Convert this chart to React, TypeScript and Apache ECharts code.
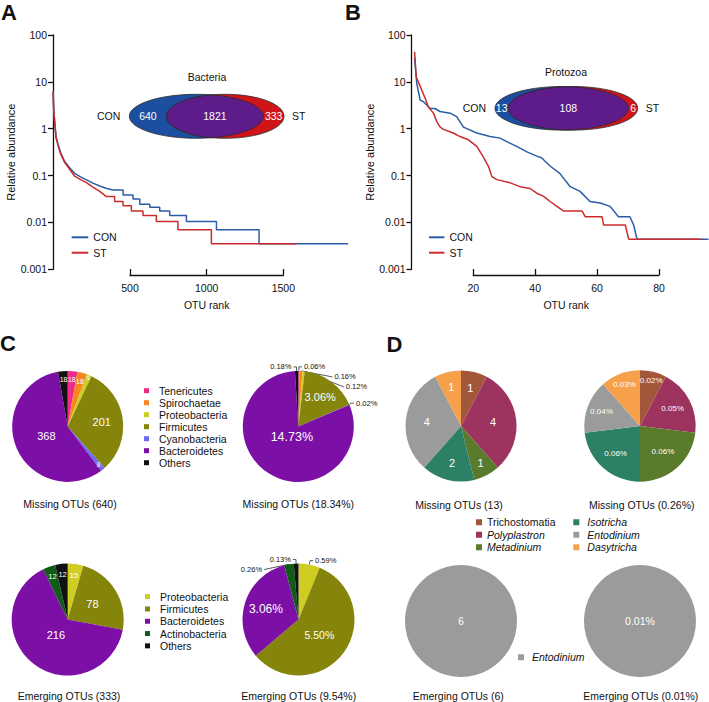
import { useEffect, useRef } from 'react';
import * as echarts from 'echarts';

const FONT = '"Liberation Sans", Arial, Helvetica, sans-serif';
const INK = '#111111';

// ---------- Panel A / B: rank-abundance curves ([OTU rank, relative abundance %]) ----------
const bacteriaCON: [number, number][] = [
  [1, 6.2], [3, 3.5], [6, 2.2], [15, 1.0], [20, 0.66], [33, 0.46], [50, 0.31], [76, 0.2], [110, 0.145],
  [141, 0.112], [180, 0.094], [218, 0.081], [260, 0.069], [305, 0.06], [350, 0.053], [391, 0.049],
  [457, 0.049], [457, 0.0385], [522, 0.0385], [522, 0.0315], [566, 0.0315], [566, 0.0245], [631, 0.0245],
  [631, 0.021], [696, 0.021], [696, 0.0175], [761, 0.0175], [761, 0.014], [870, 0.014], [870, 0.0105],
  [1066, 0.0105], [1066, 0.007], [1344, 0.007], [1344, 0.0035], [1925, 0.0035],
];
const bacteriaST: [number, number][] = [
  [1, 6.2], [3, 3.5], [6, 2.2], [15, 1.0], [20, 0.64], [33, 0.44], [50, 0.29], [76, 0.19], [110, 0.135],
  [141, 0.097], [180, 0.082], [218, 0.071], [260, 0.057], [305, 0.046], [348, 0.0357], [402, 0.0357],
  [402, 0.028], [457, 0.028], [457, 0.0227], [511, 0.0227], [511, 0.0175], [587, 0.0175], [587, 0.014],
  [674, 0.014], [674, 0.0105], [815, 0.0105], [815, 0.007], [1033, 0.007], [1033, 0.0035], [1588, 0.0035],
];
const protozoaCON: [number, number][] = [
  [1, 33], [1.7, 9.3], [2.8, 4.1], [3.8, 3.8], [6, 2.7], [7.6, 2.7], [9.2, 2.33], [12.5, 2.15], [14.6, 1.81],
  [16.8, 1.08], [21.1, 0.81], [25.4, 0.68], [28.6, 0.63], [30.8, 0.53], [34, 0.42], [37.3, 0.32], [40.5, 0.26],
  [42, 0.24], [44.8, 0.16], [48, 0.11], [51.3, 0.058], [54.5, 0.046], [57.7, 0.028], [61, 0.026], [64.2, 0.022],
  [66.9, 0.0132], [70.6, 0.0132], [71.8, 0.0088], [72.9, 0.0044], [96, 0.0044],
];
const protozoaST: [number, number][] = [
  [1, 44], [1.5, 13], [2.2, 10], [3.3, 6.7], [4.4, 4.5], [5.4, 2.95], [7.1, 2.15], [8.2, 1.4], [9.2, 1.1],
  [10.3, 0.97], [13.5, 0.81], [15.7, 0.68], [18.4, 0.58], [21.1, 0.42], [23.2, 0.25], [24.9, 0.156], [26, 0.095],
  [27.6, 0.082], [31.9, 0.07], [35.1, 0.058], [38.3, 0.053], [40.5, 0.042], [42.7, 0.036], [44.8, 0.028],
  [47, 0.022], [49.1, 0.0176], [55.1, 0.0176], [56.2, 0.0132], [61.6, 0.0132], [62.1, 0.0088], [69.1, 0.0088],
  [70.2, 0.0044], [93.5, 0.0044],
];
const yRange = [0.001, 100];
const bacteriaRankTicks = [500, 1000, 1500];
const protozoaRankTicks = [20, 40, 60, 80];

// Venn counts: [CON only, shared, ST only]
const bacteriaVenn = [640, 1821, 333];
const protozoaVenn = [13, 108, 6];

// ---------- Panel C / D: pies ----------
const missingBacteriaNames = ['Tenericutes', 'Spirochaetae', 'Proteobacteria', 'Firmicutes', 'Cyanobacteria', 'Bacteroidetes', 'Others'];
const missingBacteriaCounts = [18, 18, 9, 201, 8, 368, 18];
const missingBacteriaPct = [0.06, 0.16, 0.12, 3.06, 0.02, 14.73, 0.18];
const missingBacteriaPctTotal = 18.34;

const emergingBacteriaNames = ['Proteobacteria', 'Firmicutes', 'Bacteroidetes', 'Actinobacteria', 'Others'];
const emergingBacteriaCounts = [15, 78, 216, 12, 12];
const emergingBacteriaPct = [0.59, 5.5, 3.06, 0.26, 0.13];
const emergingBacteriaPctTotal = 9.54;

const missingProtozoaNames = ['Trichostomatia', 'Polyplastron', 'Metadinium', 'Isotricha', 'Entodinium', 'Dasytricha'];
const missingProtozoaCounts = [1, 4, 1, 2, 4, 1];
const missingProtozoaPct = [0.02, 0.05, 0.06, 0.06, 0.04, 0.03];
const missingProtozoaPctTotal = 0.26;

const emergingProtozoaNames = ['Entodinium'];
const emergingProtozoaCounts = [6];
const emergingProtozoaPct = [0.01];
const emergingProtozoaPctTotal = 0.01;

const COLORS: Record<string, string> = {
  Tenericutes: '#ee2a8a',
  Spirochaetae: '#f7861e',
  Proteobacteria: '#d0cd22',
  Firmicutes: '#85850c',
  Cyanobacteria: '#6a6cf2',
  Bacteroidetes: '#7c10a6',
  Others: '#111111',
  Actinobacteria: '#0f5c16',
  Trichostomatia: '#a3573a',
  Polyplastron: '#9c345f',
  Metadinium: '#5a7a2c',
  Isotricha: '#2b8066',
  Entodinium: '#9b9b9b',
  Dasytricha: '#f6a04c',
};
const ITALIC = new Set(['Polyplastron', 'Metadinium', 'Isotricha', 'Entodinium', 'Dasytricha']);

type LabelSpec = { f?: number; size: number; out?: boolean; center?: boolean };

const sum = (a: number[]) => a.reduce((s, v) => s + v, 0);
const fmtCount = (v: number) => String(v);
const fmtPct = (v: number) => v.toFixed(2) + '%';

function pieSeries(names: string[], values: number[], fmt: (v: number) => string, cx: number, cy: number, r: number, specs: LabelSpec[]) {
  return {
    type: 'pie',
    center: [cx, cy],
    radius: r,
    startAngle: 90,
    clockwise: true,
    avoidLabelOverlap: true,
    emphasis: { disabled: true },
    itemStyle: { borderWidth: 0 },
    label: { position: 'inside', color: '#fff', fontFamily: FONT, formatter: (p: any) => fmt(p.value) },
    labelLine: { length: 4, length2: 3, lineStyle: { color: INK, width: 0.7 } },
    data: names.map((n, i) => {
      const s = specs[i];
      return {
        name: n,
        value: values[i],
        itemStyle: { color: COLORS[n] },
        label: s.out
          ? { position: 'outside', color: INK, fontSize: s.size, fontFamily: FONT, distanceToLabelLine: 2 }
          : { position: s.center ? 'center' : 'inside', fontSize: s.size, color: '#fff', fontFamily: FONT },
        labelLine: { show: !!s.out },
      };
    }),
    labelLayout: (p: any) => {
      const s = specs[p.dataIndex];
      if (!s || s.out || s.center || s.f == null || !p.labelRect) return {};
      const lr = p.labelRect;
      const lx = lr.x + lr.width / 2 - cx;
      const ly = lr.y + lr.height / 2 - cy;
      const d = Math.hypot(lx, ly);
      if (d < 1e-6) return {};
      const k = (s.f * r) / d - 1;
      return { dx: lx * k, dy: ly * k };
    },
  };
}

function lens(c1: number, r1: number, c2: number, r2: number, cy: number, ry: number) {
  const left: number[][] = [];
  const right: number[][] = [];
  const n = 120;
  for (let i = 0; i <= n; i++) {
    const t = -1 + (2 * i) / n;
    const s = Math.sqrt(Math.max(0, 1 - t * t));
    const l = Math.max(c1 - r1 * s, c2 - r2 * s);
    const rr = Math.min(c1 + r1 * s, c2 + r2 * s);
    if (l <= rr) {
      left.push([l, cy + ry * t]);
      right.push([rr, cy + ry * t]);
    }
  }
  return left.concat(right.reverse());
}

function txt(x: number, y: number, s: string, size: number, opts: any = {}) {
  const align = opts.align || 'center';
  return {
    type: 'text',
    x,
    y,
    silent: true,
    style: {
      text: s,
      font: `${opts.italic ? 'italic ' : ''}${opts.bold ? 'bold ' : ''}${size}px ${FONT}`,
      fill: opts.fill || INK,
      align,
      verticalAlign: 'middle',
      textAlign: align,
      textVerticalAlign: 'middle',
    },
  };
}

function venn(counts: number[], title: string, titleX: number, titleY: number, c1: number, r1: number, c2: number, r2: number, cy: number, ry: number) {
  const stroke = '#2b2b2b';
  const lensLeft = c2 - r2;
  const lensRight = c1 + r1;
  return [
    txt(titleX, titleY, title, 10.5),
    { type: 'ellipse', silent: true, shape: { cx: c1, cy, rx: r1, ry }, style: { fill: '#1c4f9f', stroke, lineWidth: 0.8 } },
    { type: 'ellipse', silent: true, shape: { cx: c2, cy, rx: r2, ry }, style: { fill: '#cf1519', stroke, lineWidth: 0.8 } },
    { type: 'polygon', silent: true, shape: { points: lens(c1, r1, c2, r2, cy, ry) }, style: { fill: '#5e1c8a', stroke, lineWidth: 0.8 } },
    txt((c1 - r1 + lensLeft) / 2, cy, String(counts[0]), 10.5, { fill: '#fff' }),
    txt((lensLeft + lensRight) / 2, cy, String(counts[1]), 10.5, { fill: '#fff' }),
    txt((lensRight + c2 + r2) / 2, cy, String(counts[2]), 10.5, { fill: '#fff' }),
    txt(c1 - r1 - 9, cy, 'CON', 10.5, { align: 'right' }),
    txt(c2 + r2 + 8, cy, 'ST', 10.5, { align: 'left' }),
  ];
}

const logFmt = (v: number) => String(parseFloat(Number(v).toPrecision(6)));

function yAxisLog(gridIndex: number) {
  return {
    gridIndex,
    type: 'log',
    logBase: 10,
    min: yRange[0],
    max: yRange[1],
    name: 'Relative abundance',
    nameLocation: 'middle',
    nameGap: 33,
    nameRotate: 90,
    nameTextStyle: { fontSize: 11, color: INK, fontFamily: FONT },
    axisLine: { show: true, lineStyle: { color: INK, width: 1.3 } },
    axisTick: { show: true, inside: false, length: 5, lineStyle: { color: INK, width: 1.3 } },
    axisLabel: { fontSize: 10.5, color: INK, fontFamily: FONT, margin: 6, formatter: logFmt },
    splitLine: { show: false },
    minorTick: { show: false },
  };
}

function xAxisRank(gridIndex: number, ticks: number[]) {
  return {
    gridIndex,
    type: 'value',
    min: ticks[0],
    max: ticks[ticks.length - 1],
    interval: ticks[1] - ticks[0],
    name: 'OTU rank',
    nameLocation: 'middle',
    nameGap: 24,
    nameTextStyle: { fontSize: 10.5, color: INK, fontFamily: FONT },
    axisLine: { show: true, onZero: false, lineStyle: { color: INK, width: 1.3 } },
    axisTick: { show: true, inside: true, length: 6, lineStyle: { color: INK, width: 1.3 } },
    axisLabel: { fontSize: 10.5, color: INK, fontFamily: FONT, margin: 7, formatter: (v: number) => String(v) },
    splitLine: { show: false },
  };
}

function lineSeries(name: string, data: [number, number][], color: string, axisIndex: number) {
  return {
    type: 'line',
    name,
    data,
    xAxisIndex: axisIndex,
    yAxisIndex: axisIndex,
    showSymbol: false,
    symbol: 'none',
    color,
    lineStyle: { color, width: 1.5 },
    emphasis: { disabled: true },
    clip: true,
  };
}

function legend(data: any[], left: number, top: number, lineHeight: number, extra: any = {}) {
  return {
    orient: 'vertical',
    left,
    top,
    padding: 0,
    itemGap: 0,
    icon: 'rect',
    itemWidth: 5,
    itemHeight: 5,
    selectedMode: false,
    textStyle: { fontSize: 10.5, color: INK, fontFamily: FONT, lineHeight, padding: [0, 0, 0, extra.textGap || 0] },
    data: data.map((n) => (typeof n === 'string' && ITALIC.has(n) ? { name: n, textStyle: { fontStyle: 'italic' } } : n)),
    ...(extra.opts || {}),
  };
}

export default function App() {
  const ref = useRef<HTMLDivElement>(null);
  useEffect(() => {
    if (!ref.current) return;
    const chart = echarts.init(ref.current, undefined, { renderer: 'svg', width: 709, height: 702 });

    const CON_BLUE = '#2b5ca6';
    const ST_RED = '#cc2a2c';

    const option: any = {
      animation: false,
      backgroundColor: '#ffffff',
      textStyle: { fontFamily: FONT },
      grid: [
        { left: 53, top: 35, width: 299, height: 234.3 },
        { left: 130, top: 269, width: 153.3, height: 6 },
        { left: 411.5, top: 35, width: 297, height: 234.3 },
        { left: 473.3, top: 269, width: 185.7, height: 6 },
      ],
      xAxis: [
        { gridIndex: 0, type: 'value', min: 0, max: 1950, show: false },
        xAxisRank(1, bacteriaRankTicks),
        { gridIndex: 2, type: 'value', min: 0, max: 96, show: false },
        xAxisRank(3, protozoaRankTicks),
      ],
      yAxis: [
        yAxisLog(0),
        { gridIndex: 1, type: 'value', show: false },
        yAxisLog(2),
        { gridIndex: 3, type: 'value', show: false },
      ],
      legend: [
        legend(['CON', 'ST'], 71.7, 229.6, 15.4, { opts: { itemWidth: 16.6, itemHeight: 2 } }),
        legend(['CON', 'ST'], 429, 229.6, 15.4, { opts: { itemWidth: 15.4, itemHeight: 2 } }),
        legend(missingBacteriaNames, 144, 384.7, 12, { textGap: 5 }),
        legend(emergingBacteriaNames, 145, 590.5, 12.3, { textGap: 5 }),
        legend(missingProtozoaNames.slice(0, 3), 476, 516, 12.5, { opts: { itemWidth: 6, itemHeight: 6 } }),
        legend(missingProtozoaNames.slice(3), 573.3, 516, 12.5, { textGap: 3, opts: { itemWidth: 6, itemHeight: 6 } }),
        legend(emergingProtozoaNames, 518, 651, 12.5, { textGap: 3, opts: { itemWidth: 6, itemHeight: 6 } }),
      ],
      series: [
        lineSeries('CON', bacteriaCON, CON_BLUE, 0),
        lineSeries('ST', bacteriaST, ST_RED, 0),
        lineSeries('CON', protozoaCON, CON_BLUE, 2),
        lineSeries('ST', protozoaST, ST_RED, 2),
        pieSeries(missingBacteriaNames, missingBacteriaCounts, fmtCount, 67.7, 426.4, 55.5, [
          { f: 0.84, size: 7 }, { f: 0.84, size: 7 }, { f: 0.95, size: 6 }, { f: 0.62, size: 11 },
          { f: 0.88, size: 6.5 }, { f: 0.42, size: 11 }, { f: 0.84, size: 7 },
        ]),
        pieSeries(missingBacteriaNames, missingBacteriaPct, fmtPct, 298.3, 426.4, 55.5, [
          { out: true, size: 7.5 }, { out: true, size: 7.5 }, { out: true, size: 7.5 }, { f: 0.66, size: 11 },
          { out: true, size: 7.5 }, { f: 0.22, size: 12.5 }, { out: true, size: 7.5 },
        ]),
        pieSeries(emergingBacteriaNames, emergingBacteriaCounts, fmtCount, 67.7, 619.5, 56, [
          { f: 0.8, size: 8 }, { f: 0.52, size: 11 }, { f: 0.35, size: 11 }, { f: 0.82, size: 7.5 }, { f: 0.81, size: 7.5 },
        ]),
        pieSeries(emergingBacteriaNames, emergingBacteriaPct, fmtPct, 298.5, 619.5, 56, [
          { out: true, size: 7.5 }, { f: 0.46, size: 10.5 }, { f: 0.61, size: 12 }, { out: true, size: 7.5 }, { out: true, size: 7.5 },
        ]),
        pieSeries(missingProtozoaNames, missingProtozoaCounts, fmtCount, 461, 426, 55.5, [
          { f: 0.71, size: 11 }, { f: 0.58, size: 11 }, { f: 0.76, size: 11 }, { f: 0.68, size: 11 }, { f: 0.62, size: 11 }, { f: 0.72, size: 11 },
        ]),
        pieSeries(missingProtozoaNames, missingProtozoaPct, fmtPct, 640, 426, 55.7, [
          { f: 0.84, size: 8 }, { f: 0.66, size: 8 }, { f: 0.62, size: 8 }, { f: 0.66, size: 8 }, { f: 0.74, size: 8 }, { f: 0.79, size: 8 },
        ]),
        pieSeries(emergingProtozoaNames, emergingProtozoaCounts, fmtCount, 461, 621, 56, [{ center: true, size: 10 }]),
        pieSeries(emergingProtozoaNames, emergingProtozoaPct, fmtPct, 640, 621, 56, [{ center: true, size: 10.5 }]),
      ],
      graphic: [
        txt(1, 12.5, 'A', 22, { bold: true, align: 'left' }),
        txt(345, 12.5, 'B', 22, { bold: true, align: 'left' }),
        txt(0, 343, 'C', 22, { bold: true, align: 'left' }),
        txt(386.5, 344.5, 'D', 22, { bold: true, align: 'left' }),
        ...venn(bacteriaVenn, 'Bacteria', 207, 77.3, 196.3, 67, 225.3, 58.7, 116.3, 22),
        ...venn(protozoaVenn, 'Protozoa', 566, 71.7, 561.7, 66.7, 573, 64.7, 108.3, 21.8),
        txt(70, 504, `Missing OTUs (${sum(missingBacteriaCounts)})`, 10.5),
        txt(298.3, 504, `Missing OTUs (${missingBacteriaPctTotal.toFixed(2)}%)`, 10.5),
        txt(459, 505, `Missing OTUs (${sum(missingProtozoaCounts)})`, 10.5),
        txt(641.7, 505, `Missing OTUs (${missingProtozoaPctTotal.toFixed(2)}%)`, 10.5),
        txt(69, 695.5, `Emerging OTUs (${sum(emergingBacteriaCounts)})`, 10.5),
        txt(298.7, 695.5, `Emerging OTUs (${emergingBacteriaPctTotal.toFixed(2)}%)`, 10.5),
        txt(458.3, 695.5, `Emerging OTUs (${sum(emergingProtozoaCounts)})`, 10.5),
        txt(640.8, 695.5, `Emerging OTUs (${emergingProtozoaPctTotal.toFixed(2)}%)`, 10.5),
      ],
    };
    chart.setOption(option);
    return () => chart.dispose();
  }, []);
  return (
    <div
      ref={ref}
      style={{ position: 'fixed', left: 0, top: 0, width: 709, height: 702, background: '#fff' }}
    />
  );
}
